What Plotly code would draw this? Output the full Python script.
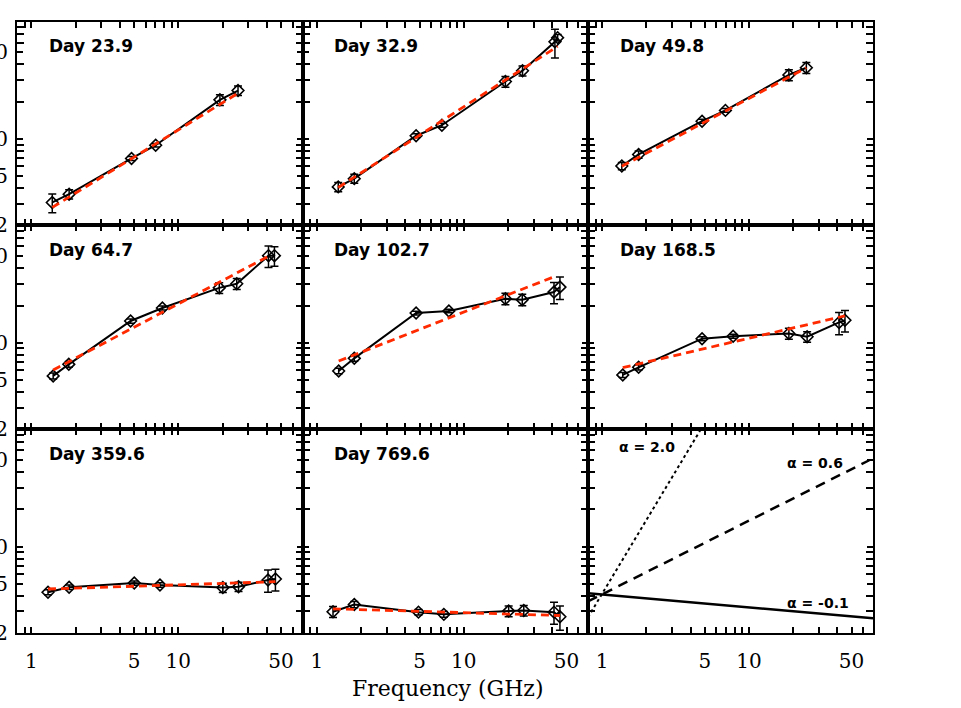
import numpy as np
import plotly.graph_objects as go
from plotly.subplots import make_subplots

# epochs (one panel each)
DAYS = ["Day 23.9", "Day 32.9", "Day 49.8", "Day 64.7",
        "Day 102.7", "Day 168.5", "Day 359.6", "Day 769.6"]

# frequency (GHz) of each measurement, per epoch
FREQ = [
    [1.39, 1.81, 4.81, 7.02, 19.2, 25.5],
    [1.40, 1.80, 4.74, 7.10, 19.2, 25.1, 41.7, 43.5],
    [1.36, 1.77, 4.79, 6.91, 18.7, 24.6],
    [1.41, 1.80, 4.74, 7.80, 19.0, 25.0, 41.1, 45.1],
    [1.41, 1.80, 4.74, 7.92, 19.2, 25.0, 41.1, 45.1],
    [1.38, 1.77, 4.79, 7.80, 18.7, 24.9, 41.1, 45.1],
    [1.30, 1.81, 5.02, 7.51, 20.1, 25.7, 40.8, 45.8],
    [1.29, 1.80, 4.92, 7.32, 20.2, 25.6, 41.1, 45.1],
]

# flux density (mJy)
FLUX = [
    [3.06, 3.57, 6.95, 8.89, 20.7, 24.6],
    [4.09, 4.77, 10.6, 12.9, 29.1, 35.6, 61.0, 65.9],
    [6.03, 7.48, 13.9, 17.0, 32.9, 37.6],
    [5.40, 6.70, 15.0, 19.1, 27.8, 30.0, 50.6, 50.6],
    [5.92, 7.49, 17.4, 18.1, 22.7, 22.3, 25.7, 28.2],
    [5.50, 6.34, 10.8, 11.3, 11.9, 11.2, 14.6, 15.2],
    [4.27, 4.69, 5.08, 4.89, 4.66, 4.74, 5.37, 5.47],
    [2.97, 3.40, 2.95, 2.83, 3.01, 3.04, 2.95, 2.71],
]

FLUX_ERR = [
    [0.53, 0.30, 0.25, 0.30, 2.1, 2.2],
    [0.35, 0.40, 0.40, 0.50, 2.9, 3.3, 16.0, 4.0],
    [0.40, 0.50, 0.50, 0.60, 3.4, 3.8],
    [0.30, 0.35, 0.60, 0.70, 2.8, 3.0, 10.0, 9.0],
    [0.30, 0.40, 0.60, 0.60, 2.4, 2.4, 5.0, 5.8],
    [0.25, 0.30, 0.40, 0.40, 1.2, 1.1, 3.0, 3.0],
    [0.20, 0.20, 0.20, 0.20, 0.4, 0.4, 1.1, 1.1],
    [0.30, 0.20, 0.15, 0.15, 0.3, 0.3, 0.6, 0.6],
]

# power-law fit, end points (GHz, mJy)
FIT_FREQ = [
    [1.39, 25.5], [1.40, 43.5], [1.36, 24.6], [1.41, 43.0],
    [1.41, 42.0], [1.38, 45.1], [1.30, 45.8], [1.29, 45.1],
]
FIT_FLUX = [
    [2.79, 23.4], [4.04, 56.0], [6.0, 37.6], [6.03, 51.5],
    [7.12, 34.5], [6.30, 16.5], [4.54, 5.20], [3.14, 2.77],
]

# reference spectral indices for the last panel
ALPHA_TEXT = ["α = 2.0", "α = 0.6", "α = -0.1"]
ALPHA_FREQ = [[0.8, 4.7], [0.8, 66.0], [0.8, 70.0]]
ALPHA_FLUX = [[2.68, 89.0], [3.6, 50.0], [4.2, 2.63]]
ALPHA_DASH = ["dot", "10px,7px", "solid"]

X_TICKS = [1, 5, 10, 50]
X_MINOR = [0.9, 2, 3, 4, 6, 7, 8, 9, 20, 30, 40, 60, 70]
Y_TICKS = [2, 5, 10, 50]
Y_MINOR = [3, 4, 6, 7, 8, 9, 20, 30, 40, 60, 70, 80]

W, H = 961, 708
col_edges = [17, 302.5, 588, 873]
row_edges = [21.5, 225.3, 429.3, 633]

fig = make_subplots(rows=3, cols=3, horizontal_spacing=0, vertical_spacing=0)

for i in range(9):
    r, c = i // 3 + 1, i % 3 + 1
    if i < len(DAYS):
        fig.add_trace(
            go.Scatter(
                x=FREQ[i], y=FLUX[i], mode="lines+markers",
                line=dict(color="black", width=2),
                marker=dict(symbol="diamond-open", size=9, color="black",
                            line=dict(width=1.6, color="black")),
                error_y=dict(type="data", array=FLUX_ERR[i], color="black",
                             thickness=1.5, width=4),
                showlegend=False,
            ),
            row=r, col=c,
        )
        fig.add_trace(
            go.Scatter(
                x=FIT_FREQ[i], y=FIT_FLUX[i], mode="lines",
                line=dict(color="#ff2a00", width=2.8, dash="8px,5px"),
                showlegend=False,
            ),
            row=r, col=c,
        )
    else:
        for fx, fy, d in zip(ALPHA_FREQ, ALPHA_FLUX, ALPHA_DASH):
            fig.add_trace(
                go.Scatter(
                    x=fx, y=fy, mode="lines",
                    line=dict(color="black", width=2.5 if d != "dot" else 2, dash=d),
                    showlegend=False,
                ),
                row=r, col=c,
            )

axis_common = dict(
    type="log", showline=True, linecolor="black", linewidth=2, mirror="allticks",
    ticks="inside", ticklen=6, tickwidth=1.5, tickcolor="black",
    showgrid=False, zeroline=False, automargin=False,
    tickfont=dict(family="DejaVu Serif", size=20, color="black"),
)

for i in range(9):
    r, c = i // 3, i % 3
    suffix = "" if i == 0 else str(i + 1)
    xdom = [col_edges[c] / W, col_edges[c + 1] / W]
    ydom = [1 - row_edges[r + 1] / H, 1 - row_edges[r] / H]
    fig.update_layout({
        "xaxis" + suffix: dict(
            axis_common, domain=xdom,
            range=[np.log10(0.8), np.log10(70)],
            tickmode="array", tickvals=X_TICKS,
            ticktext=[str(v) for v in X_TICKS],
            showticklabels=(r == 2), ticklabelstandoff=9,
            minor=dict(tickmode="array", tickvals=X_MINOR, ticks="inside",
                       ticklen=6, tickwidth=1.5, tickcolor="black"),
        ),
        "yaxis" + suffix: dict(
            axis_common, domain=ydom,
            range=[np.log10(2), np.log10(89)],
            tickmode="array", tickvals=Y_TICKS,
            ticktext=[str(v) for v in Y_TICKS],
            showticklabels=(c == 0), ticklabelstandoff=3,
            minor=dict(tickmode="array", tickvals=Y_MINOR, ticks="inside",
                       ticklen=7, tickwidth=1.5, tickcolor="black"),
        ),
    })

annotations = []
for i, day in enumerate(DAYS):
    suffix = "" if i == 0 else str(i + 1)
    annotations.append(dict(
        text=day, xref="x" + suffix + " domain", yref="y" + suffix + " domain",
        x=0.105, y=0.88, xanchor="left", yanchor="middle", showarrow=False,
        font=dict(family="DejaVu Sans", size=17, color="black", weight="bold"),
    ))

alpha_pos = [(0.102, 0.913), (0.69, 0.835), (0.69, 0.149)]
for txt, (ax_, ay_) in zip(ALPHA_TEXT, alpha_pos):
    annotations.append(dict(
        text=txt, xref="x9 domain", yref="y9 domain", x=ax_, y=ay_,
        xanchor="left", yanchor="middle", showarrow=False,
        font=dict(family="DejaVu Sans", size=14, color="black", weight="bold"),
    ))

annotations.append(dict(
    text="Frequency (GHz)", xref="paper", yref="paper",
    x=448 / W, y=1 - 688 / H, xanchor="center", yanchor="middle",
    showarrow=False,
    font=dict(family="DejaVu Serif", size=22, color="black"),
))

fig.update_layout(
    width=W, height=H,
    margin=dict(l=0, r=0, t=0, b=0),
    paper_bgcolor="white", plot_bgcolor="white",
    annotations=annotations,
)

# drop the default page margin so the figure sits at the window corner
fig.write_html(
    "out.html",
    config={"displayModeBar": False},
    post_script="document.body.style.margin = '0';",
)
